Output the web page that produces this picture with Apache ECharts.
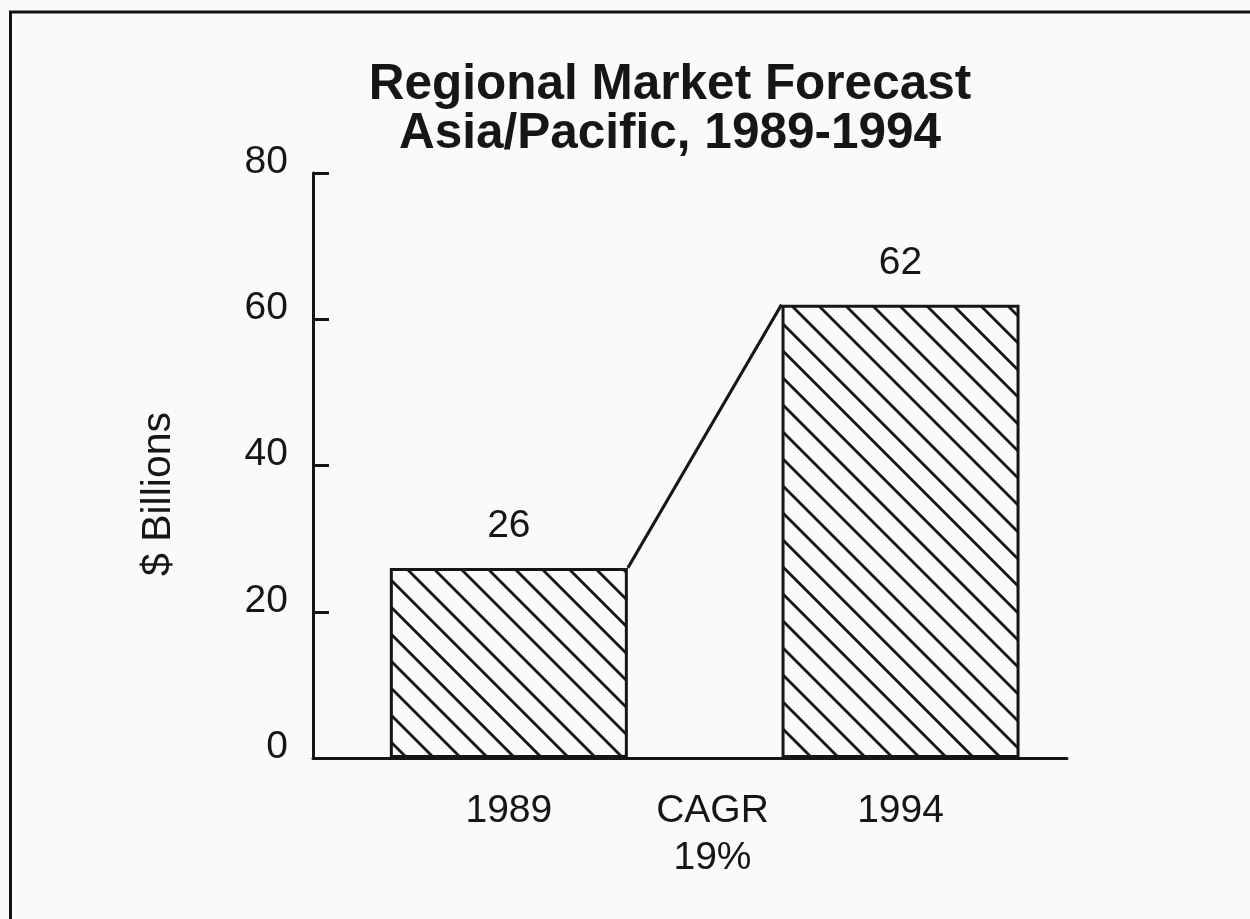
<!DOCTYPE html>
<html>
<head>
<meta charset="utf-8">
<script src="https://cdn.jsdelivr.net/npm/echarts@6/dist/echarts.min.js"></script>
<style>
  html, body { margin: 0; padding: 0; background: #fafaf8; }
  #chart { width: 1250px; height: 919px; }
</style>
</head>
<body>
<div id="chart"></div>
<script>
// ---- data ----
const titleLines = ['Regional Market Forecast', 'Asia/Pacific, 1989-1994'];
const years = ['1989', '1994'];
const marketValues = [26, 62];           // $ Billions
const growthLabel = ['CAGR', '19%'];
const yTicks = [0, 20, 40, 60, 80];
const yAxisTitle = '$ Billions';

// slot positions on the x axis: year 0 -> 1, growth label just past the midpoint, year 1 -> 3
const yearSlot = i => 1 + 2 * i;
const growthSlot = 2.04;

// ---- style ----
const FONT = "'Liberation Sans', Arial, Helvetica, sans-serif";
const INK = '#161616';
const BG = '#fafaf8';
const BAR_W = 238;

function hatchPattern(size, lw) {
  const c = document.createElement('canvas');
  c.width = size; c.height = size;
  const g = c.getContext('2d');
  g.fillStyle = BG;
  g.fillRect(0, 0, size, size);
  g.strokeStyle = INK;
  g.lineWidth = lw;
  for (let k = -1; k <= 1; k++) {
    g.beginPath();
    g.moveTo(k * size - 2, -2);
    g.lineTo(k * size + size + 2, size + 2);
    g.stroke();
  }
  return c;
}

const chart = echarts.init(document.getElementById('chart'), null, { renderer: 'canvas' });

const barData = marketValues.map((v, i) => [yearSlot(i), v]);
const connector = [[yearSlot(0), marketValues[0], yearSlot(1), marketValues[1]]];
const labelSlots = [yearSlot(0), growthSlot, yearSlot(1)];

const option = {
  backgroundColor: BG,
  animation: false,
  title: {
    text: titleLines.join('\n'),
    left: 665,
    textAlign: 'center',
    top: 56,
    textStyle: { fontFamily: FONT, fontSize: 49.5, fontWeight: 'bold', lineHeight: 49, color: INK }
  },
  grid: { left: 313, right: 183, top: 173, bottom: 161, containLabel: false },
  xAxis: {
    type: 'value',
    min: 0,
    max: 3.85,
    interval: 1,
    splitLine: { show: false },
    axisTick: { show: false },
    axisLine: { show: true, lineStyle: { color: INK, width: 3 } },
    axisLabel: {
      margin: 30,
      customValues: labelSlots,
      fontFamily: FONT, fontSize: 39, lineHeight: 47, color: INK,
      formatter: v => {
        for (let i = 0; i < years.length; i++) if (Math.abs(v - yearSlot(i)) < 1e-6) return years[i];
        if (Math.abs(v - growthSlot) < 1e-6) return growthLabel.join('\n');
        return '';
      }
    }
  },
  yAxis: {
    type: 'value',
    min: yTicks[0],
    max: yTicks[yTicks.length - 1],
    interval: yTicks[1] - yTicks[0],
    splitLine: { show: false },
    axisLine: { show: true, lineStyle: { color: INK, width: 3 } },
    axisTick: { show: true, inside: true, length: 16, lineStyle: { color: INK, width: 3 } },
    axisLabel: {
      margin: 25, fontFamily: FONT, fontSize: 39, color: INK,
      lineHeight: 22, verticalAlign: 'bottom'
    }
  },
  graphic: [
    {
      type: 'polyline',
      shape: { points: [[10.5, 919], [10.5, 12], [1250, 12]] },
      style: { stroke: '#111', lineWidth: 3, fill: null },
      silent: true
    },
    {
      type: 'text',
      x: 159, y: 494,
      rotation: Math.PI / 2,
      style: {
        text: yAxisTitle, font: '41px ' + FONT, fill: INK,
        align: 'center', verticalAlign: 'middle'
      },
      silent: true
    }
  ],
  series: [
    {
      type: 'bar',
      data: barData,
      barWidth: BAR_W,
      itemStyle: {
        color: { image: hatchPattern(27, 2.8), repeat: 'repeat' },
        borderColor: INK,
        borderWidth: 3
      },
      label: {
        show: true, position: 'top', distance: 22,
        fontFamily: FONT, fontSize: 39, color: INK,
        formatter: p => String(p.value[1])
      },
      z: 2
    },
    {
      type: 'custom',
      data: connector,
      encode: { x: [0, 2], y: [1, 3] },
      renderItem: (params, api) => {
        const p1 = api.coord([api.value(0), api.value(1)]);
        const p2 = api.coord([api.value(2), api.value(3)]);
        const h = BAR_W / 2;
        return {
          type: 'line',
          shape: { x1: p1[0] + h, y1: p1[1], x2: p2[0] - h, y2: p2[1] },
          style: { stroke: INK, lineWidth: 3 }
        };
      },
      z: 3
    }
  ]
};

chart.setOption(option);
</script>
</body>
</html>
